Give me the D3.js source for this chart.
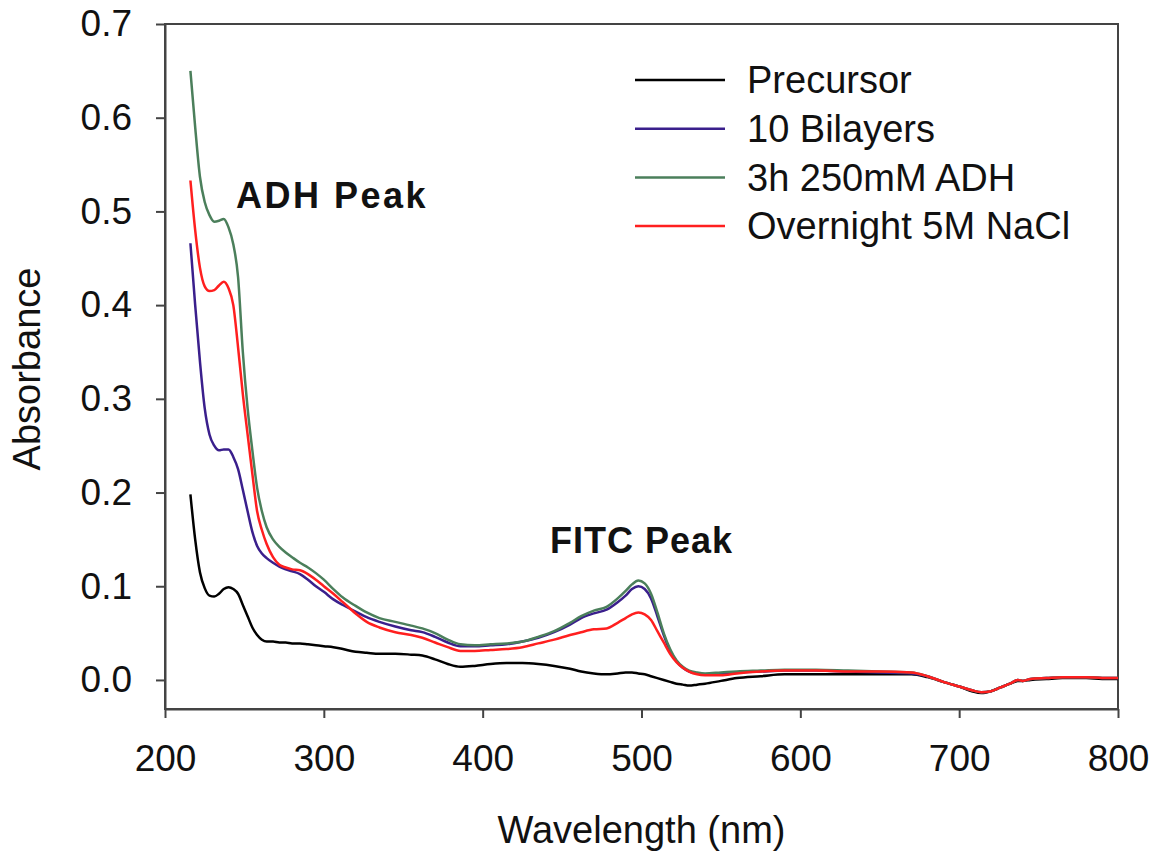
<!DOCTYPE html>
<html>
<head>
<meta charset="utf-8">
<script src="https://cdn.jsdelivr.net/npm/d3@7"></script>
<style>
  body { margin: 0; background: #fff; }
  text { font-family: "Liberation Sans", Arial, sans-serif; fill: #111; }
</style>
</head>
<body>
<div id="chart"></div>
<script>
// wavelength grid (nm)
const wavelengths = [216, 219, 222, 225, 228, 231, 234, 237, 240, 243, 246, 249, 252, 255, 258, 261, 264, 268, 272, 276, 280, 285, 290, 295, 300, 306, 312, 320, 327, 335, 345, 355, 362, 370, 378, 386, 395, 405, 415, 425, 435, 445, 455, 462, 470, 478, 485, 490, 494, 498, 502, 506, 510, 514, 518, 522, 526, 530, 535, 540, 550, 560, 575, 590, 610, 630, 650, 670, 680, 690, 700, 708, 714, 720, 726, 732, 737, 740, 745, 755, 765, 780, 790, 800];

const precursor = [0.198, 0.150, 0.115, 0.098, 0.090, 0.089, 0.092, 0.097, 0.099, 0.097, 0.092, 0.080, 0.068, 0.056, 0.048, 0.043, 0.041, 0.041, 0.040, 0.040, 0.039, 0.039, 0.038, 0.037, 0.036, 0.035, 0.033, 0.030, 0.029, 0.028, 0.028, 0.027, 0.026, 0.022, 0.017, 0.014, 0.015, 0.017, 0.018, 0.018, 0.017, 0.015, 0.012, 0.009, 0.007, 0.006, 0.007, 0.008, 0.008, 0.007, 0.006, 0.004, 0.002, 0.000, -0.002, -0.004, -0.005, -0.006, -0.005, -0.004, -0.001, 0.002, 0.004, 0.006, 0.006, 0.006, 0.006, 0.006, 0.003, -0.002, -0.007, -0.012, -0.014, -0.012, -0.008, -0.004, -0.001, -0.001, 0.000, 0.001, 0.002, 0.002, 0.001, 0.001];

const bilayers = [0.466, 0.400, 0.340, 0.290, 0.262, 0.250, 0.245, 0.246, 0.246, 0.238, 0.225, 0.203, 0.180, 0.158, 0.143, 0.135, 0.130, 0.125, 0.121, 0.118, 0.116, 0.113, 0.107, 0.100, 0.094, 0.086, 0.080, 0.073, 0.067, 0.062, 0.057, 0.053, 0.051, 0.046, 0.040, 0.036, 0.036, 0.037, 0.038, 0.041, 0.045, 0.051, 0.059, 0.066, 0.071, 0.075, 0.083, 0.090, 0.097, 0.100, 0.097, 0.087, 0.068, 0.048, 0.031, 0.020, 0.013, 0.009, 0.007, 0.006, 0.007, 0.008, 0.009, 0.010, 0.010, 0.009, 0.008, 0.007, 0.004, -0.002, -0.007, -0.011, -0.013, -0.012, -0.008, -0.004, 0.000, -0.001, 0.001, 0.002, 0.003, 0.003, 0.002, 0.002];

const adh = [0.650, 0.590, 0.537, 0.510, 0.496, 0.489, 0.490, 0.492, 0.483, 0.465, 0.430, 0.350, 0.290, 0.245, 0.205, 0.180, 0.163, 0.150, 0.142, 0.136, 0.131, 0.125, 0.120, 0.114, 0.107, 0.097, 0.088, 0.079, 0.072, 0.066, 0.062, 0.058, 0.055, 0.050, 0.043, 0.038, 0.037, 0.038, 0.039, 0.041, 0.046, 0.052, 0.061, 0.068, 0.074, 0.078, 0.087, 0.095, 0.102, 0.106, 0.103, 0.092, 0.072, 0.050, 0.033, 0.021, 0.014, 0.010, 0.008, 0.007, 0.008, 0.009, 0.010, 0.011, 0.011, 0.010, 0.009, 0.008, 0.004, -0.002, -0.007, -0.011, -0.013, -0.012, -0.008, -0.004, 0.000, -0.001, 0.001, 0.002, 0.003, 0.003, 0.002, 0.002];

const nacl = [0.533, 0.480, 0.440, 0.420, 0.415, 0.416, 0.421, 0.425, 0.418, 0.400, 0.355, 0.305, 0.262, 0.220, 0.180, 0.160, 0.145, 0.131, 0.123, 0.120, 0.118, 0.117, 0.113, 0.107, 0.100, 0.092, 0.083, 0.071, 0.062, 0.056, 0.051, 0.048, 0.045, 0.040, 0.035, 0.031, 0.031, 0.032, 0.033, 0.035, 0.039, 0.043, 0.048, 0.051, 0.054, 0.055, 0.061, 0.066, 0.070, 0.072, 0.070, 0.064, 0.052, 0.040, 0.028, 0.019, 0.013, 0.009, 0.006, 0.005, 0.005, 0.007, 0.009, 0.010, 0.010, 0.009, 0.009, 0.008, 0.004, -0.002, -0.007, -0.011, -0.013, -0.012, -0.008, -0.004, 0.000, -0.001, 0.001, 0.002, 0.003, 0.003, 0.002, 0.002];

const seriesNames = ["Precursor", "10 Bilayers", "3h 250mM ADH", "Overnight 5M NaCl"];
const seriesValues = [precursor, bilayers, adh, nacl];
const colors = ["#000000", "#3a1f8c", "#4b7f5b", "#ff1f1f"];

const xTicks = [200, 300, 400, 500, 600, 700, 800];
const yTicks = [0.0, 0.1, 0.2, 0.3, 0.4, 0.5, 0.6, 0.7];

const width = 1163, height = 860;
const margin = { top: 24, right: 45, bottom: 151, left: 165 };
const innerW = width - margin.left - margin.right;
const innerH = height - margin.top - margin.bottom;

const svg = d3.select("#chart").append("svg")
  .attr("width", width)
  .attr("height", height);

const g = svg.append("g").attr("transform", `translate(${margin.left},${margin.top})`);

const x = d3.scaleLinear().domain([200, 800]).range([0, innerW]);
const y = d3.scaleLinear().domain([-0.031, 0.7]).range([innerH, 0]);

// box (top and right spines)
g.append("rect")
  .attr("width", innerW).attr("height", innerH)
  .attr("fill", "none").attr("stroke", "#444").attr("stroke-width", 2);

const xAxis = g.append("g")
  .attr("transform", `translate(0,${innerH})`)
  .call(d3.axisBottom(x).tickValues(xTicks).tickSize(9).tickPadding(27).tickSizeOuter(0));

const yAxis = g.append("g")
  .call(d3.axisLeft(y).tickValues(yTicks).tickFormat(d3.format(".1f")).tickSize(9).tickPadding(24).tickSizeOuter(0));

[xAxis, yAxis].forEach(a => {
  a.select(".domain").attr("stroke", "#444").attr("stroke-width", 2);
  a.selectAll(".tick line").attr("stroke", "#444").attr("stroke-width", 2);
  a.selectAll(".tick text")
    .attr("font-family", "Liberation Sans, Arial, sans-serif")
    .attr("font-size", 37).attr("fill", "#111");
});

const line = d3.line()
  .x((d, i) => x(wavelengths[i]))
  .y(d => y(d))
  .curve(d3.curveMonotoneX);

// draw in order so red ends on top
g.selectAll(".series")
  .data(seriesValues)
  .enter()
  .append("path")
  .attr("class", "series")
  .attr("d", line)
  .attr("fill", "none")
  .attr("stroke", (d, i) => colors[i])
  .attr("stroke-width", 2.5)
  .attr("stroke-linejoin", "round");

// legend
const legend = svg.append("g").attr("transform", "translate(635,80)");
seriesNames.forEach((name, i) => {
  const row = legend.append("g").attr("transform", `translate(0,${i * 48.7})`);
  row.append("line").attr("x1", 0).attr("x2", 90)
    .attr("stroke", colors[i]).attr("stroke-width", 2.5);
  row.append("text").attr("x", 112).attr("dy", "0.35em")
    .attr("font-size", 38).text(name);
});

// peak labels
svg.append("text").attr("x", 236).attr("y", 208)
  .attr("font-size", 36).attr("font-weight", "bold").attr("letter-spacing", 2.5)
  .text("ADH Peak");
svg.append("text").attr("x", 550).attr("y", 553)
  .attr("font-size", 36).attr("font-weight", "bold").attr("letter-spacing", 1)
  .text("FITC Peak");

// axis titles
svg.append("text")
  .attr("x", margin.left + innerW / 2 + 0).attr("y", 843)
  .attr("text-anchor", "middle").attr("font-size", 38)
  .text("Wavelength (nm)");
svg.append("text")
  .attr("transform", "translate(40,369) rotate(-90)")
  .attr("text-anchor", "middle").attr("font-size", 38)
  .text("Absorbance");
</script>
</body>
</html>
